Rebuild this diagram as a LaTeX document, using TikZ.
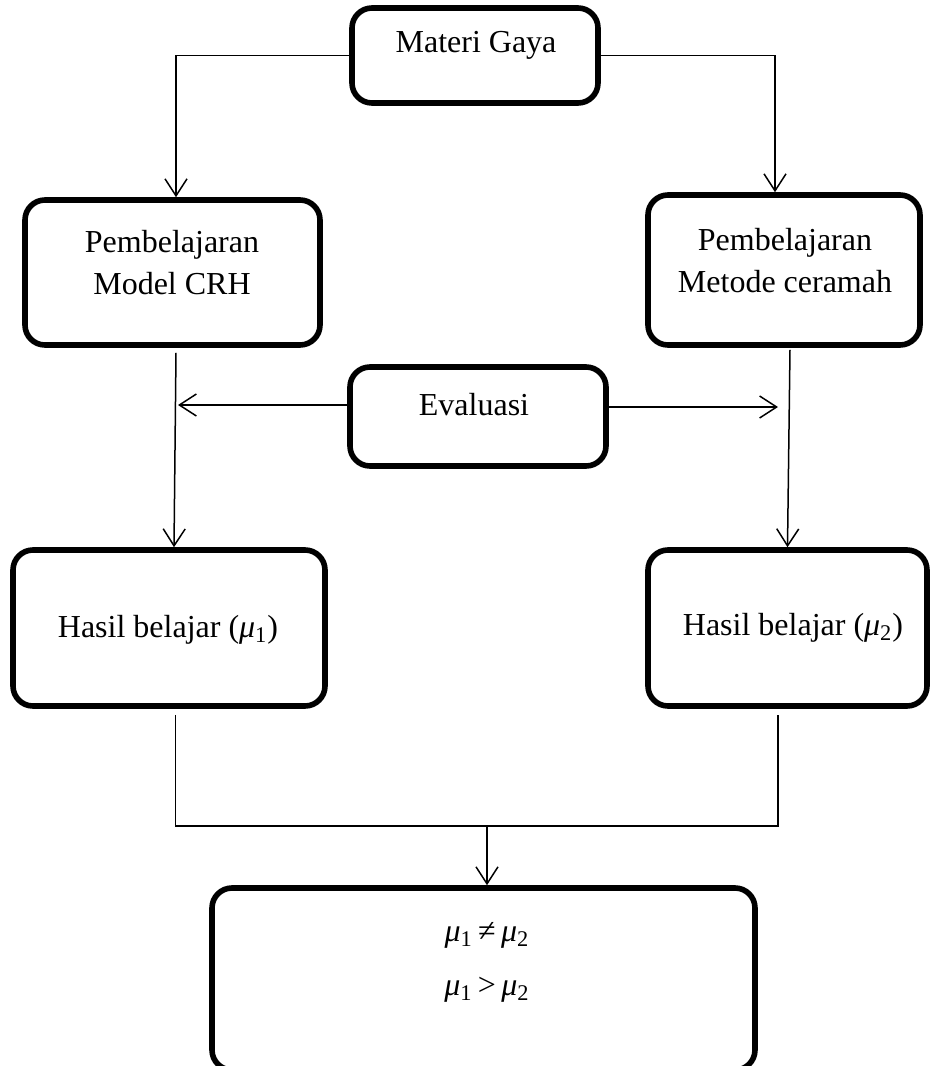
\documentclass[tikz,border=0pt]{standalone}
\usepackage{fontspec}
\setmainfont{Liberation Serif}
\usepackage{tikz}
\usetikzlibrary{arrows.meta, fit, calc}
\tikzset{>={Straight Barb[length=8.5pt,width=11pt]}}
\tikzset{kotak/.style={draw, line width=2.8pt, rounded corners=10pt, inner sep=0pt},
         teks/.style={align=center, font=\fontsize{16}{21}\selectfont},
         garis/.style={line width=0.75pt}}
\newcommand{\musatu}{\textit{μ}\textsubscript{1}}
\newcommand{\mudua}{\textit{μ}\textsubscript{2}}

\begin{document}
\begin{tikzpicture}[x=0.5pt, y=-0.5pt]
\useasboundingbox (0,0) rectangle (931,1066);
% kotak-kotak
\node[kotak, fit={(352,8) (598,103)}] (materi) {};
\node[teks] at (476,45) {Materi Gaya};
\node[kotak, fit={(25,200) (320,345)}] (crh) {};
\node[teks] at (172,263) {Pembelajaran\\Model CRH};
\node[kotak, fit={(648,195) (920,345)}] (ceramah) {};
\node[teks] at (785,261) {Pembelajaran\\Metode ceramah};
\node[kotak, fit={(350,367) (606,466)}] (evaluasi) {};
\node[teks] at (474,405) {Evaluasi};
\node[kotak, fit={(13,550) (325,706)}] (hasil1) {};
\node[teks] at (168,630) {Hasil belajar (\musatu)};
\node[kotak, fit={(648,550) (927,706)}] (hasil2) {};
\node[teks] at (793,628) {Hasil belajar (\mudua)};
\node[kotak, fit={(212,888) (755,1070)}] (hasil) {};
\node[teks] at (487,935) {\musatu\,≠\,\mudua};
\node[teks] at (487,990) {\musatu\,>\,\mudua};
% titik bantu
\coordinate (kiri) at (178,405);
\coordinate (kanan) at (778,407);
\coordinate (gabung) at (487,826);
% panah
\draw[garis, ->] (materi.west) -| ([xshift=1.75pt]crh.north);
\draw[garis, ->] (materi.east) -| ([xshift=-4.5pt]ceramah.north);
\draw[garis, ->] (evaluasi.west |- kiri) -- (kiri);
\draw[garis, ->] (evaluasi.east |- kanan) -- (kanan);
\draw[garis, ->] ([xshift=1.75pt, yshift=-2.5pt]crh.south) -- ([xshift=2.5pt]hasil1.north);
\draw[garis, ->] ([xshift=3pt, yshift=-1pt]ceramah.south) -- (hasil2.north);
\draw[garis] ([xshift=3.25pt, yshift=-3pt]hasil1.south) |- (gabung) -| ([xshift=-4.75pt, yshift=-3pt]hasil2.south);
\draw[garis, ->] (gabung) -- (gabung |- hasil.north);
\end{tikzpicture}
\end{document}
